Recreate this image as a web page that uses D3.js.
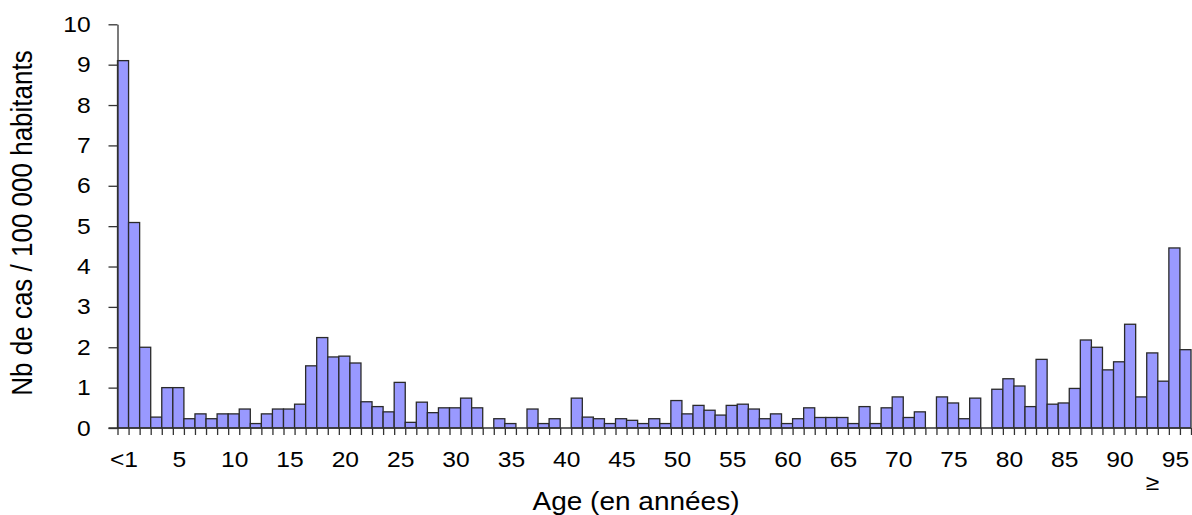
<!DOCTYPE html>
<html>
<head>
<meta charset="utf-8">
<script src="https://cdn.jsdelivr.net/npm/d3@7/dist/d3.min.js"></script>
<style>
  html, body { margin: 0; padding: 0; background: #fff; }
  svg { display: block; font-family: Arial, "Liberation Sans", sans-serif; }
</style>
</head>
<body>
<svg id="chart" width="1192" height="515"></svg>
<script>
// Ages 0 (<1) to 96
const ages = d3.range(0, 97);
const values = [
  9.10, 5.09, 2.00, 0.27, 1.00, 1.00, 0.23, 0.35, 0.23, 0.35,
  0.35, 0.47, 0.11, 0.35, 0.47, 0.47, 0.59, 1.54, 2.24, 1.76,
  1.78, 1.61, 0.65, 0.53, 0.40, 1.13, 0.14, 0.64, 0.38, 0.50,
  0.50, 0.74, 0.50, 0.00, 0.23, 0.11, 0.00, 0.47, 0.11, 0.23,
  0.00, 0.74, 0.27, 0.23, 0.11, 0.23, 0.19, 0.11, 0.23, 0.11,
  0.68, 0.35, 0.56, 0.44, 0.32, 0.56, 0.59, 0.47, 0.23, 0.35,
  0.11, 0.23, 0.50, 0.26, 0.26, 0.26, 0.11, 0.53, 0.11, 0.50,
  0.77, 0.26, 0.40, 0.00, 0.77, 0.62, 0.23, 0.74, 0.00, 0.96,
  1.22, 1.04, 0.53, 1.70, 0.59, 0.62, 0.98, 2.18, 2.00, 1.44,
  1.64, 2.57, 0.77, 1.86, 1.16, 4.46, 1.94
];
const xTickAges = [0, 5, 10, 15, 20, 25, 30, 35, 40, 45, 50, 55, 60, 65, 70, 75, 80, 85, 90, 95];
const xTickLabels = ["<1", "5", "10", "15", "20", "25", "30", "35", "40", "45", "50", "55", "60", "65", "70", "75", "80", "85", "90", "95"];
const yTicks = [0, 1, 2, 3, 4, 5, 6, 7, 8, 9, 10];
const yTitle = "Nb de cas / 100 000 habitants";
const xTitle = "Age (en années)";
const extraLabel = "≥";
const extraLabelAge = 93;

(function () {
const data = ages.map((a, i) => ({ age: a, value: values[i] }));

const svg = d3.select("#chart");
const mLeft = 117.5, mRight = 1191, mTop = 24.3, mBottom = 428;
const stretch = 1.12;

const x = d3.scaleBand().domain(ages).range([mLeft, mRight]).padding(0);
const xLin = d3.scaleLinear().domain([0, ages.length]).range([mLeft, mRight]);
const y = d3.scaleLinear().domain([0, 10]).range([mBottom, mTop]);

// Bars
svg.append("g")
  .selectAll("rect")
  .data(data.filter(d => d.value > 0))
  .join("rect")
  .attr("x", d => x(d.age))
  .attr("y", d => y(d.value))
  .attr("width", x.bandwidth())
  .attr("height", d => y(0) - y(d.value))
  .attr("fill", "#9999ff")
  .attr("stroke", "#2a2a2a")
  .attr("stroke-width", 1.3);

// Y axis
const yAxis = svg.append("g")
  .attr("transform", `translate(${mLeft},0)`)
  .call(d3.axisLeft(y).tickValues(yTicks).tickSize(9).tickPadding(15).tickSizeOuter(0));
yAxis.select(".domain").attr("stroke", "#333").attr("stroke-width", 1.3);
yAxis.selectAll(".tick line").attr("stroke", "#333").attr("stroke-width", 1.3);
yAxis.selectAll(".tick text")
  .attr("font-size", 22).attr("fill", "#000")
  .attr("font-family", "Arial, 'Liberation Sans', sans-serif")
  .attr("transform", `scale(${stretch},1)`);

// X axis: boundary ticks
const xAxisTicks = svg.append("g")
  .attr("transform", `translate(0,${mBottom})`)
  .call(d3.axisBottom(xLin).tickValues(d3.range(0, ages.length + 1)).tickSize(7).tickFormat("").tickSizeOuter(0));
xAxisTicks.select(".domain").remove();
xAxisTicks.selectAll(".tick line").attr("stroke", "#333").attr("stroke-width", 1.3);

// X axis line (extends left to the y tick length)
svg.append("line")
  .attr("x1", mLeft - 9).attr("x2", mRight)
  .attr("y1", mBottom).attr("y2", mBottom)
  .attr("stroke", "#333").attr("stroke-width", 1.3);

// X labels
const xLabels = svg.append("g")
  .attr("transform", `translate(0,${mBottom})`)
  .call(d3.axisBottom(x).tickValues(xTickAges).tickSize(0).tickPadding(0)
    .tickFormat(d => xTickLabels[xTickAges.indexOf(d)]));
xLabels.select(".domain").remove();
xLabels.selectAll(".tick text")
  .attr("font-size", 22).attr("fill", "#000")
  .attr("font-family", "Arial, 'Liberation Sans', sans-serif")
  .attr("y", 0).attr("dy", null)
  .attr("transform", `translate(1,39) scale(${stretch},1)`);

// extra "≥" label
svg.append("text")
  .attr("transform", `translate(${x(extraLabelAge) + x.bandwidth() / 2},490) scale(${stretch},1)`)
  .attr("text-anchor", "middle")
  .attr("font-size", 22)
  .text(extraLabel);

// Axis titles
svg.append("text")
  .attr("transform", `translate(32,223) scale(${stretch},1) rotate(-90)`)
  .attr("text-anchor", "middle")
  .attr("font-size", 26)
  .text(yTitle);

svg.append("text")
  .attr("transform", `translate(636,510) scale(${stretch},1)`)
  .attr("text-anchor", "middle")
  .attr("font-size", 25)
  .text(xTitle);
})();
</script>
</body>
</html>
